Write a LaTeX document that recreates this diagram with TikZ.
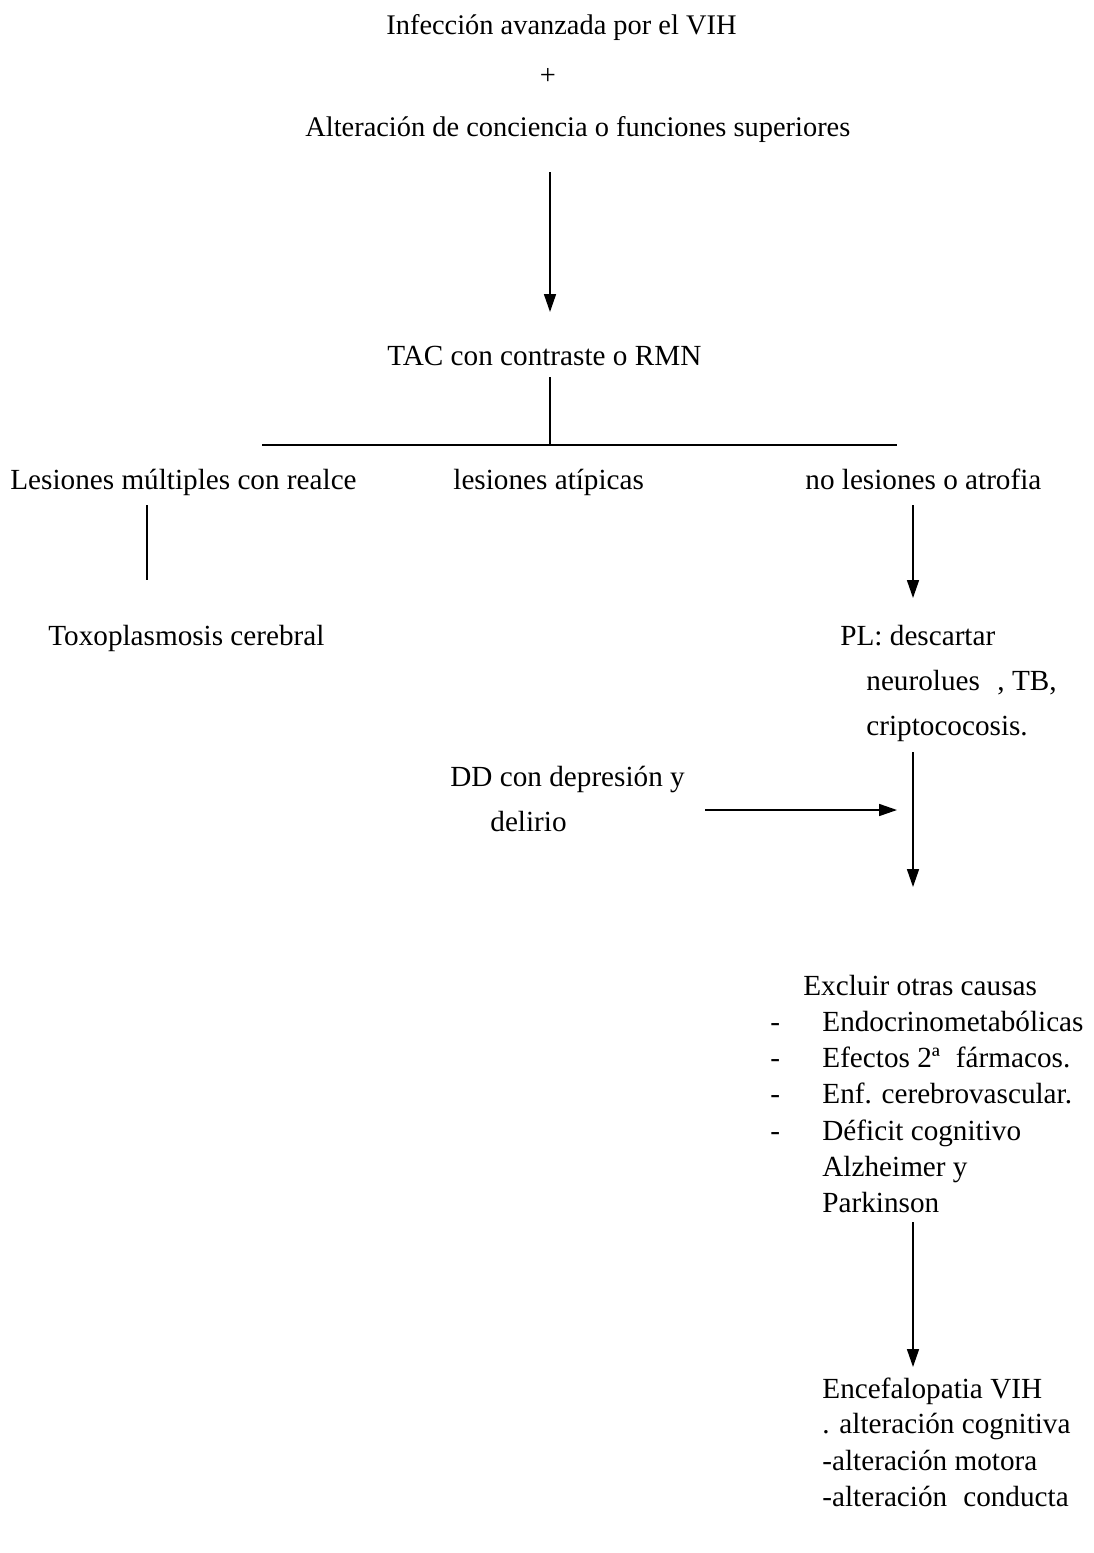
\documentclass[tikz,border=0pt]{standalone}
\usepackage{fontspec}
\setmainfont{Liberation Serif}
\usetikzlibrary{arrows.meta}
\begin{document}
\begin{tikzpicture}[x=0.5pt,y=-0.5pt,
  txt/.style={inner sep=0pt,anchor=base west,font=\fontsize{14.6}{17}\selectfont},
  toptxt/.style={txt,font=\fontsize{14.2}{17}\selectfont},
  ln/.style={line width=0.8pt},
  arr/.style={line width=0.8pt,-{Triangle[length=9pt,width=6pt]}}]
\useasboundingbox (0,0) rectangle (1093,1553);

% header
\node[toptxt] (top1) at (386,34) {Infección avanzada por el VIH};
\node[toptxt,anchor=base] (plus) at (548,84) {+};
\node[toptxt] (top2) at (305,136) {Alteración de conciencia o funciones superiores};
\node[txt] (tac) at (387,365) {TAC con contraste o RMN};

% three branches
\node[txt] (les1) at (10,489) {Lesiones múltiples con realce};
\node[txt] (les2) at (453,489) {lesiones atípicas};
\node[txt] (les3) at (805,489) {no lesiones o atrofia};

\node[txt] (toxo) at (48,645) {Toxoplasmosis cerebral};

% lumbar puncture
\node[txt] (pl1) at (840,645) {PL: descartar};
\node[txt] (pl2) at (866,690) {neurolues\hspace{0.6em}, TB,};
\node[txt] (pl3) at (866,735) {criptococosis.};

% differential diagnosis
\node[txt] (dd1) at (450,786) {DD con depresión y};
\node[txt] (dd2) at (490,831) {delirio};

% exclusions
\node[txt] (ex0) at (803,995) {Excluir otras causas};
\node[txt] (ex1) at (822,1031) {Endocrinometabólicas};
\node[txt] (ex2) at (822,1067) {Efectos 2ª\hspace{0.55em}fármacos.};
\node[txt] (ex3) at (822,1103) {Enf. cerebrovascular.};
\node[txt] (ex4) at (822,1140) {Déficit cognitivo};
\node[txt] (ex5) at (822,1176) {Alzheimer y};
\node[txt] (ex6) at (822,1212) {Parkinson};
\foreach \i/\y in {1/1031,2/1067,3/1103,4/1140}
  \node[txt] (dash\i) at (770,\y) {-};

% final diagnosis
\node[txt] (enc1) at (822,1398) {Encefalopatia VIH};
\node[txt] (enc2) at (822,1433) {. alteración cognitiva};
\node[txt] (enc3) at (822,1470) {-alteración motora};
\node[txt] (enc4) at (822,1506) {-alteración\hspace{0.55em}conducta};

% connector points
\coordinate (topA) at (550,172);
\coordinate (topB) at (550,312);
\coordinate (tacA) at (550,377);
\coordinate (bar) at (550,445);
\coordinate (barL) at (262,445);
\coordinate (barR) at (897,445);
\coordinate (l1A) at (147,505);
\coordinate (l1B) at (147,580);
\coordinate (l3A) at (913,505);
\coordinate (l3B) at (913,598);
\coordinate (plA) at (913,752);
\coordinate (plB) at (913,887);
\coordinate (ddA) at (705,810);
\coordinate (ddB) at (897,810);
\coordinate (exA) at (913,1222);
\coordinate (exB) at (913,1367);

\draw[arr] (topA) -- (topB);
\draw[ln] (tacA) -- (bar);
\draw[line width=1.1pt] (barL) -- (barR);
\draw[ln] (l1A) -- (l1B);
\draw[arr] (l3A) -- (l3B);
\draw[arr] (plA) -- (plB);
\draw[arr] (ddA) -- (ddB);
\draw[arr] (exA) -- (exB);
\end{tikzpicture}
\end{document}
